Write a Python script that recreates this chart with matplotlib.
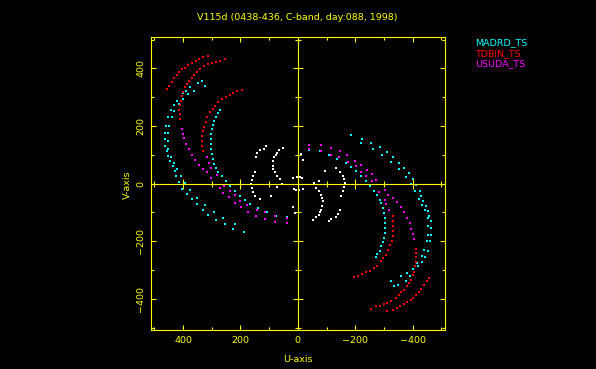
import numpy as np
import matplotlib
matplotlib.use("Agg")
import matplotlib.pyplot as plt
from matplotlib.ticker import MultipleLocator

# ---------------- data (u, v in kilo-lambda); conjugate points are (-u, -v) ----------------
title = "V115d (0438-436, C-band, day:088, 1998)"
legend_names = ["MADRD_TS", "TDBIN_TS", "USUDA_TS"]

# MADRD_TS (cyan) tracks
c1_u = [335, 349, 376, 390, 402, 420, 432, 443, 452, 461, 463, 463, 463, 457, 452, 446, 436, 428, 425, 413, 403, 388, 370, 353, 330, 312, 285, 254, 225, 187]
c1_v = [357, 351, 337, 322, 316, 287, 272, 256, 233, 200, 177, 154, 131, 114, 96, 79, 61, 44, 25, 4, -17, -37, -54, -72, -91, -109, -126, -141, -156, -168]
c2_u = [324, 361, 382, 402, 414, 432, 440, 449, 452, 452, 452, 442, 432, 423, 408, 394, 376, 352, 324, 292, 261, 219]
c2_v = [339, 322, 310, 295, 276, 252, 230, 200, 177, 148, 119, 91, 73, 52, 26, 1, -23, -51, -75, -99, -120, -141]
c3_u = [271, 277, 285, 291, 297, 300, 303, 304, 303, 303, 300, 297, 291, 285, 277, 266, 251, 237, 219, 202, 184, 167, 138, 109, 76, 39]
c3_v = [255, 244, 233, 218, 203, 189, 172, 154, 137, 119, 102, 85, 67, 56, 39, 25, 8, -8, -25, -43, -57, -72, -86, -100, -112, -116]

# TDBIN_TS (red) tracks
r1_u = [457, 449, 440, 431, 423, 413, 403, 394, 382, 370, 356, 344, 330, 312]
r1_v = [328, 339, 353, 365, 376, 388, 397, 403, 411, 418, 426, 432, 438, 443]
r2_u = [254, 271, 285, 300, 312, 326, 341, 353, 361, 370, 379, 386, 394, 400, 405, 409, 411, 413, 411, 411]
r2_v = [434, 426, 423, 418, 415, 407, 397, 388, 377, 368, 357, 345, 334, 318, 305, 287, 272, 256, 241, 226]
r3_u = [196, 211, 225, 237, 251, 266, 277, 289, 297, 306, 316, 321, 327, 330, 333, 333, 333, 330]
r3_v = [325, 320, 314, 307, 302, 293, 285, 270, 258, 247, 230, 214, 198, 183, 166, 148, 131, 114]

# USUDA_TS (magenta) tracks
m1_u = [405, 400, 396, 390, 380, 370, 359, 344, 330, 316, 303, 271, 260, 240, 219, 199, 173, 146, 114, 80, 39]
m1_v = [191, 174, 157, 137, 119, 100, 81, 64, 50, 41, 21, -14, -33, -48, -66, -80, -98, -112, -124, -133, -135]
m2_u = [318, 309, 303, 283, 258, 237, 219, 202, 176, 143, 114, 80, 39]
m2_v = [91, 71, 56, 29, -8, -25, -40, -60, -75, -91, -100, -112, -120]

# other baselines (white)
w1_u = [110, 117, 132, 141, 146]
w1_v = [131, 122, 117, 105, 91]
w2_u = [53, 65, 72, 76, 82, 85, 88, 85, 80, 72, 62, 56]
w2_v = [125, 117, 108, 100, 91, 79, 61, 50, 39, 27, 15, -2]
w3_u = [149, 156, 161, 163, 161, 156, 148, 132, 95, 72]
w3_v = [42, 27, 12, -2, -16, -28, -42, -54, -43, -10]
w4_u = [18, 4, -8, -14, -11, -17]
w4_v = [18, 23, 23, 19, 102, 81]

tracks = [
    ("cyan", c1_u, c1_v), ("cyan", c2_u, c2_v), ("cyan", c3_u, c3_v),
    ("red", r1_u, r1_v), ("red", r2_u, r2_v), ("red", r3_u, r3_v),
    ("magenta", m1_u, m1_v), ("magenta", m2_u, m2_v),
    ("white", w1_u, w1_v), ("white", w2_u, w2_v), ("white", w3_u, w3_v), ("white", w4_u, w4_v),
]
legend_colors = ["cyan", "red", "magenta"]

YEL = "#ffff00"
W, H = 596, 369
fig = plt.figure(figsize=(W / 100, H / 100), dpi=100, facecolor="black")

left, right, top, bottom = 150.7, 445.0, 37.3, 330.0
pos = [left / W, 1 - bottom / H, (right - left) / W, (bottom - top) / H]
ax = fig.add_axes(pos, facecolor="black")
xlim = (513, -513)
ylim = (-508, 508)

for col, u, v in tracks:
    u = np.asarray(u); v = np.asarray(v)
    ax.plot(u, v, ls="none", marker="s", ms=1.5, mew=0, color=col)
    ax.plot(-u, -v, ls="none", marker="s", ms=1.5, mew=0, color=col)

ax.set_xlim(*xlim)
ax.set_ylim(*ylim)
for s in ax.spines.values():
    s.set_color(YEL)
    s.set_linewidth(0.8)
ax.xaxis.set_major_locator(MultipleLocator(200))
ax.xaxis.set_minor_locator(MultipleLocator(100))
ax.yaxis.set_major_locator(MultipleLocator(200))
ax.yaxis.set_minor_locator(MultipleLocator(100))
ax.tick_params(which="both", direction="in", top=True, right=True, color=YEL,
               labelcolor=YEL, labelsize=6.8, width=0.8, pad=4)
ax.tick_params(which="major", length=3.9)
ax.tick_params(which="minor", length=2.4)
ax.tick_params(axis="y", labelrotation=90)
for lab in ax.get_yticklabels():
    lab.set_va("center")

# zero lines with crossing ticks
ax2 = fig.add_axes(pos, facecolor="none")
ax2.set_xlim(*xlim)
ax2.set_ylim(*ylim)
ax2.spines["top"].set_visible(False)
ax2.spines["right"].set_visible(False)
ax2.spines["left"].set_position(("data", 0))
ax2.spines["bottom"].set_position(("data", 0))
for s in ("left", "bottom"):
    ax2.spines[s].set_color(YEL)
    ax2.spines[s].set_linewidth(0.8)
ax2.xaxis.set_major_locator(MultipleLocator(200))
ax2.xaxis.set_minor_locator(MultipleLocator(100))
ax2.yaxis.set_major_locator(MultipleLocator(200))
ax2.yaxis.set_minor_locator(MultipleLocator(100))
ax2.tick_params(which="both", direction="inout", color=YEL, width=0.8,
                labelbottom=False, labelleft=False)
ax2.tick_params(which="major", length=7)
ax2.tick_params(which="minor", length=4)

fs = 6.8
fig.text(297.5 / W, 1 - 19.5 / H, title, color=YEL, fontsize=fs, ha="center", va="baseline")
fig.text(298.3 / W, 1 - 362.0 / H, "U-axis", color=YEL, fontsize=fs, ha="center", va="baseline")
fig.text(131.7 / W, 1 - 185.0 / H, "V-axis", color=YEL, fontsize=fs, ha="right", va="center", rotation=90)

for name, col, yb in zip(legend_names, legend_colors, [45.1, 55.8, 66.3]):
    fig.text(475 / W, 1 - yb / H, name, color=col, fontsize=fs, ha="left", va="baseline")

fig.savefig("out.png", dpi=100, facecolor="black")
